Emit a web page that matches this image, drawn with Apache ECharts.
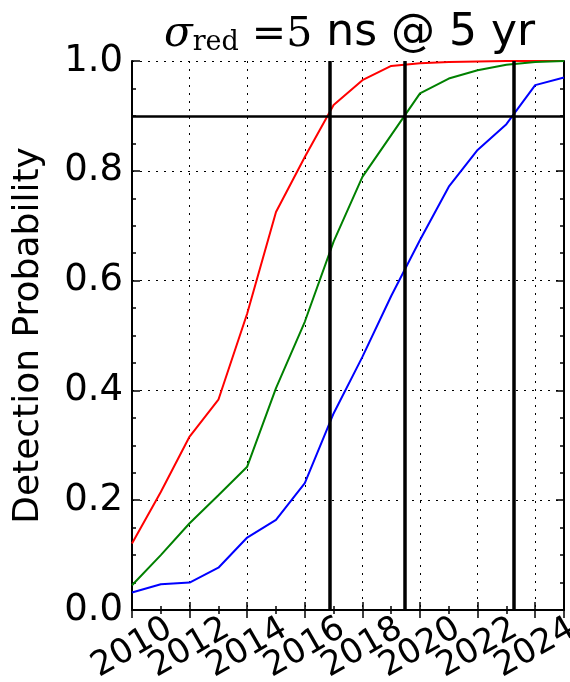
<!DOCTYPE html>
<html>
<head>
<meta charset="utf-8">
<script src="https://cdn.jsdelivr.net/npm/echarts@6/dist/echarts.min.js"></script>
<style>
  html, body { margin: 0; padding: 0; background: #fff; }
  #chart { width: 570px; height: 682px; }
</style>
</head>
<body>
<div id="chart"></div>
<script>
var chart = echarts.init(document.getElementById('chart'));

var years = [2010, 2011, 2012, 2013, 2014, 2015, 2016, 2017, 2018, 2019, 2020, 2021, 2022, 2023, 2024, 2025];
var redProb = [0.121, 0.215, 0.316, 0.383, 0.54, 0.725, 0.825, 0.92, 0.965, 0.991, 0.996, 0.998, 0.999, 1.0, 1.0, 1.0];
var greenProb = [0.045, 0.10, 0.158, 0.209, 0.261, 0.404, 0.525, 0.671, 0.789, 0.865, 0.941, 0.968, 0.983, 0.993, 0.998, 1.0];
var blueProb = [0.032, 0.047, 0.05, 0.077, 0.132, 0.164, 0.231, 0.358, 0.461, 0.572, 0.674, 0.771, 0.838, 0.885, 0.956, 0.970];
var crossYears = [2016.85, 2019.47, 2023.25];  // 90% detection years
var threshold = 0.9;

function pairs(vals) {
    return years.map(function (y, i) { return [y, vals[i]]; });
}

var frame = { show: true, lineStyle: { color: '#000', width: 2 } };
var grid = { show: true, lineStyle: { color: '#000', type: [2, 6], width: 1 } };
var tick = { inside: true, length: 8, lineStyle: { color: '#000', width: 1.5 } };
var labelFont = { fontFamily: 'DejaVu Sans', color: '#000' };

// the rotated year labels overlap, so they are split over two bottom axes
// (every other one) to keep echarts from dropping any
function yearLabels(offsetYears) {
    return {
        rotate: 30, margin: 38, align: 'center', verticalAlign: 'middle',
        fontFamily: labelFont.fontFamily, fontSize: 34, color: '#000',
        showMinLabel: true, showMaxLabel: false,
        formatter: function (v) { return (v - 2010) % 4 === offsetYears ? String(v) : ''; }
    };
}

var option = {
    animation: false,
    backgroundColor: '#fff',
    title: {
        text: '{sig|σ}{sub|red}{eq| =5}{txt| ns @ 5 yr}',
        left: 159,
        top: 1,
        textStyle: {
            fontWeight: 'normal',
            rich: {
                sig: { fontFamily: 'DejaVu Serif', fontStyle: 'italic', fontWeight: 'normal', fontSize: 42, color: '#000', lineHeight: 50, verticalAlign: 'bottom' },
                sub: { fontFamily: 'DejaVu Serif', fontWeight: 'normal', fontSize: 27, color: '#000', lineHeight: 23, verticalAlign: 'bottom' },
                eq: { fontFamily: 'DejaVu Serif', fontWeight: 'normal', fontSize: 41, color: '#000', lineHeight: 50, verticalAlign: 'bottom' },
                txt: { fontFamily: 'DejaVu Sans', fontWeight: 'normal', fontSize: 44, color: '#000', lineHeight: 50, verticalAlign: 'bottom' }
            }
        }
    },
    grid: { left: 132, right: 6, top: 61, bottom: 72, outerBoundsMode: 'none', containLabel: false },
    xAxis: [{
        type: 'value', position: 'bottom',
        min: 2010, max: 2025, interval: 2,
        axisLine: frame,
        axisTick: tick,
        minorTick: { show: true, splitNumber: 2, length: 4, lineStyle: { color: '#000', width: 1.5 } },
        splitLine: grid,
        axisLabel: yearLabels(0)
    }, {
        type: 'value', position: 'top',
        min: 2010, max: 2025, interval: 2,
        axisLine: frame,
        axisTick: tick,
        minorTick: { show: true, splitNumber: 2, length: 4, lineStyle: { color: '#000', width: 1.5 } },
        splitLine: { show: false },
        axisLabel: { show: false }
    }, {
        type: 'value', position: 'bottom',
        min: 2010, max: 2025, interval: 2,
        axisLine: { show: false },
        axisTick: { show: false },
        splitLine: { show: false },
        axisLabel: yearLabels(2)
    }],
    yAxis: [{
        type: 'value',
        min: 0, max: 1, interval: 0.2,
        name: 'Detection Probability',
        nameLocation: 'middle',
        nameGap: 85,
        nameTextStyle: { fontFamily: 'DejaVu Sans', fontSize: 36, color: '#000' },
        axisLine: frame,
        axisTick: tick,
        minorTick: { show: true, splitNumber: 4, length: 4, lineStyle: { color: '#000', width: 1.5 } },
        splitLine: grid,
        axisLabel: {
            margin: 9, fontFamily: 'DejaVu Sans', fontSize: 37, color: '#000',
            formatter: function (v) { return v.toFixed(1); }
        }
    }, {
        type: 'value', position: 'right',
        min: 0, max: 1, interval: 0.2,
        axisLine: frame,
        axisTick: tick,
        minorTick: { show: true, splitNumber: 4, length: 4, lineStyle: { color: '#000', width: 1.5 } },
        splitLine: { show: false },
        axisLabel: { show: false }
    }],
    series: [
        { type: 'line', data: pairs(redProb), showSymbol: false, lineStyle: { color: '#ff0000', width: 2 }, z: 3 },
        { type: 'line', data: pairs(greenProb), showSymbol: false, lineStyle: { color: '#008000', width: 2 }, z: 3 },
        { type: 'line', data: pairs(blueProb), showSymbol: false, lineStyle: { color: '#0000ff', width: 2 }, z: 3 },
        {
            type: 'line', data: [], z: 5,
            markLine: {
                silent: true, symbol: 'none', animation: false,
                label: { show: false },
                data: crossYears.map(function (x) {
                    return { xAxis: x, lineStyle: { color: '#000', width: 3.5, type: 'solid' } };
                }).concat([{ yAxis: threshold, lineStyle: { color: '#000', width: 2.5, type: 'solid' } }])
            }
        }
    ]
};

chart.setOption(option);
</script>
</body>
</html>
